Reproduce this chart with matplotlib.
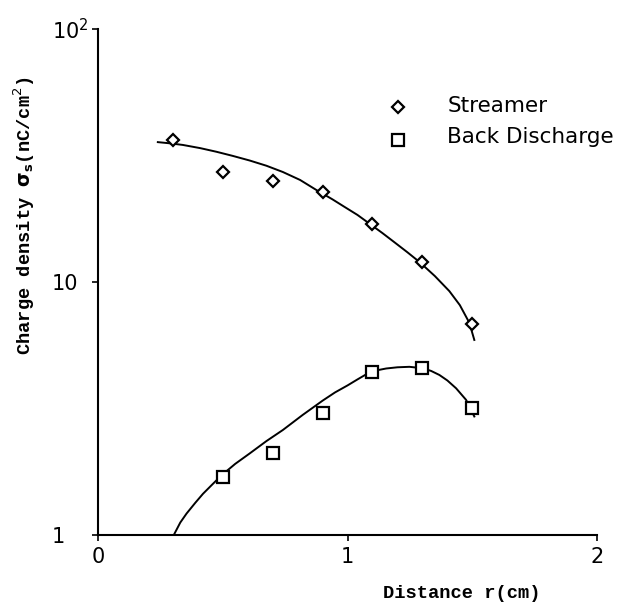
import matplotlib
matplotlib.use('Agg')
import matplotlib.pyplot as plt
from matplotlib.ticker import FixedLocator, NullLocator

# measured points
r_pts = [0.3, 0.5, 0.7, 0.9, 1.1, 1.3, 1.5]
streamer = [36.4, 27.2, 25.1, 22.7, 16.9, 12.0, 6.8]
r_back = [0.5, 0.7, 0.9, 1.1, 1.3, 1.5]
back = [1.70, 2.11, 3.03, 4.42, 4.57, 3.17]

# fitted curves
r_fit_s = [0.24, 0.29, 0.34, 0.41, 0.475, 0.54, 0.608, 0.675, 0.741, 0.81, 0.875,
           0.94, 0.988, 1.04, 1.088, 1.14, 1.188, 1.24, 1.288, 1.35, 1.408, 1.45, 1.488, 1.508]
fit_s = [35.7, 35.3, 34.8, 33.8, 32.7, 31.5, 30.2, 28.8, 27.2, 25.3, 23.1,
         21.2, 19.8, 18.4, 17.0, 15.6, 14.35, 13.1, 12.0, 10.55, 9.2, 8.1, 6.9, 5.9]
r_fit_b = [0.304, 0.33, 0.355, 0.39, 0.421, 0.46, 0.495, 0.55, 0.608, 0.675, 0.741, 0.82,
           0.901, 0.95, 1.0, 1.04, 1.081, 1.12, 1.155, 1.2, 1.248, 1.301, 1.335, 1.368, 1.4,
           1.435, 1.475, 1.508]
fit_b = [1.0, 1.12, 1.215, 1.34, 1.455, 1.59, 1.72, 1.91, 2.10, 2.35, 2.60, 2.98,
         3.40, 3.66, 3.90, 4.12, 4.35, 4.48, 4.55, 4.60, 4.62, 4.56, 4.45, 4.29, 4.08,
         3.80, 3.42, 2.94]

fig = plt.figure(figsize=(6.4, 6.03), dpi=100)
ax = fig.add_axes([0.153, 0.1128, 0.78, 0.8392])

ax.plot(r_fit_s, fit_s, color='black', lw=1.4)
ax.plot(r_fit_b, fit_b, color='black', lw=1.4)
ax.plot(r_pts, streamer, linestyle='none', marker='D', ms=6.5, mfc='white', mec='black', mew=1.6)
ax.plot(r_back, back, linestyle='none', marker='s', ms=8, mfc='white', mec='black', mew=1.6)

ax.set_yscale('log')
ax.set_xlim(0, 2)
ax.set_ylim(1, 100)
ax.spines['top'].set_visible(False)
ax.spines['right'].set_visible(False)
ax.spines['left'].set_linewidth(1.5)
ax.spines['bottom'].set_linewidth(1.5)

ax.xaxis.set_major_locator(FixedLocator([0, 1, 2]))
ax.set_xticklabels(['0', '1', '2'])
ax.yaxis.set_major_locator(FixedLocator([1, 10, 100]))
ax.set_yticklabels(['1', '10', '10$^{2}$'])
ax.xaxis.set_minor_locator(NullLocator())
ax.yaxis.set_minor_locator(NullLocator())
ax.tick_params(direction='out', length=4, width=1.2, labelsize=15)
ax.tick_params(axis='x', pad=5)
ax.tick_params(axis='y', pad=29)
for t in ax.get_yticklabels():
    t.set_horizontalalignment('left')

# legend drawn by hand
ax.plot([1.204], [49.3], marker='D', ms=6.5, mfc='white', mec='black', mew=1.6, linestyle='none', clip_on=False)
ax.plot([1.204], [36.4], marker='s', ms=8, mfc='white', mec='black', mew=1.6, linestyle='none', clip_on=False)
ax.text(1.40, 47.1, 'Streamer', fontsize=15.5, va='baseline', ha='left')
ax.text(1.40, 35.3, 'Back Discharge', fontsize=15.5, va='baseline', ha='left', clip_on=False)

fig.text(0.722, 0.015, 'Distance r(cm)', family='Liberation Mono', fontweight='bold', fontsize=13.5,
         ha='center', va='center')
fig.text(0.0375, 0.642, 'Charge density $\\mathbf{\\sigma_s}$(nC/cm$^2$)', family='Liberation Mono',
         fontweight='bold', fontsize=13.5, rotation=90, ha='center', va='center')

fig.savefig('out.png', dpi=100)
